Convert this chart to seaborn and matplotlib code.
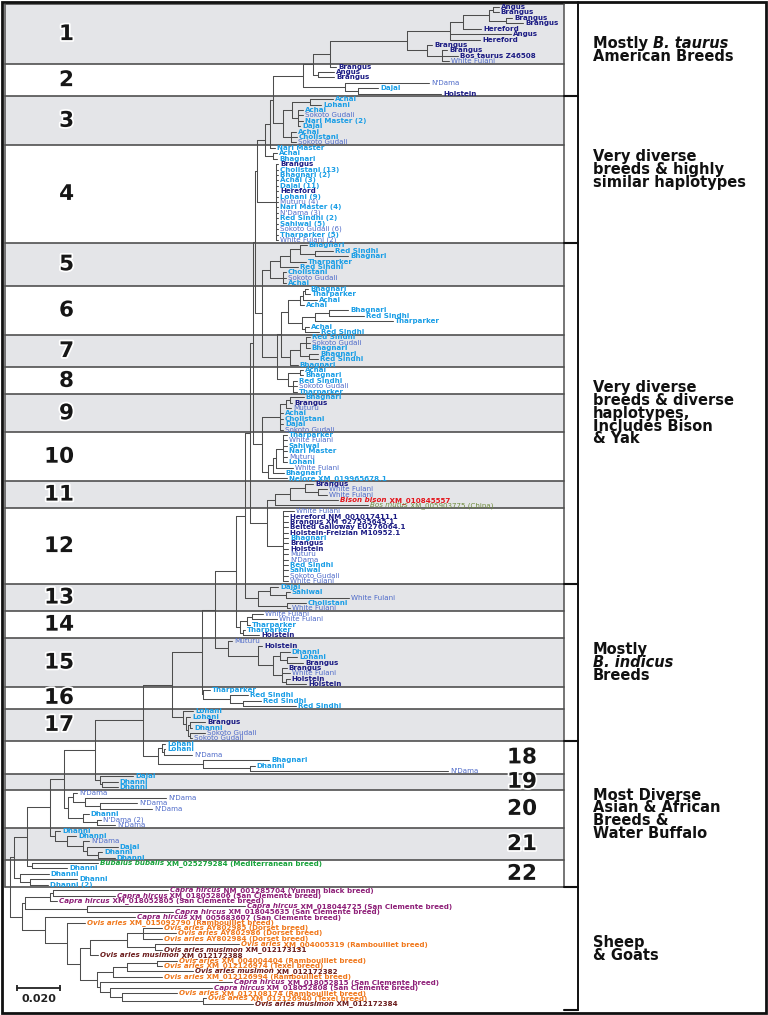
import matplotlib
matplotlib.use("Agg")
import matplotlib.pyplot as plt
import matplotlib.patheffects as pe
from matplotlib.patches import Rectangle
from matplotlib.transforms import blended_transform_factory
import pandas as pd
import seaborn as sns

# -----------------------------------------------------------------------------
# Arvore: no interno = (profundidade, [filhos]), folha = (nome, profundidade)
# profundidades = distancia a partir da raiz, em substituicoes/sitio x 1000
band1 = (184.6, [
    (204.6, [
        (210.7, [
            (222.7, [
                (224.6, [("Angus", 227.4), ("Brangus", 227.4)]),
                (230.7, [("Brangus", 233.5), ("Brangus", 238.6)]),
            ]),
            ("Hereford", 219.1),
        ]),
        ("Angus", 233.0),
        ("Hereford", 218.6),
    ]),
    (193.9, [
        ("Brangus", 196.3),
        (200.9, [("Brangus", 203.3), ("Bos taurus Z46508", 208.4), ("White Fulani", 204.2)]),
    ]),
])

band2 = (136.3, [
    (140.9, [(148.8, [band1, ("Brangus", 151.6)]),
             (143.3, [("Angus", 150.7), ("Brangus", 150.7)])]),
    (155.8, [("N'Dama", 194.9), (161.9, [("Dajal", 171.2), ("Holstein", 200.5)])]),
])

band3 = (127.0, [
    (131.2, [
        (139.5, [("Achai", 150.2), ("Lohani", 144.7)]),
        (133.9, [("Achai", 136.3), ("Sokoto Gudali", 136.3),
                 ("Nari Master (2)", 136.3), ("Dajal", 134.9)]),
    ]),
    (130.7, [("Achai", 133.0), ("Cholistani", 133.5), ("Sokoto Gudali", 133.0)]),
])

band4_top = (118.6, [
    (120.9, [(122.3, [band2, band3]), ("Nari Master", 123.3)]),
    (122.3, [("Achai", 124.2), ("Bhagnari", 124.2)]),
])
band4_rest = (123.7, [
    ("Brangus", 124.7), ("Cholistani (13)", 124.7), ("Bhagnari (2)", 124.7),
    ("Achai (3)", 124.7), ("Dajal (11)", 124.7), ("Hereford", 124.7),
    ("Lohani (9)", 124.7), ("Muturu (4)", 124.7), ("Nari Master (4)", 124.7),
    ("N'Dama (3)", 124.7), ("Red Sindhi (2)", 124.7), ("Sahiwal (5)", 124.7),
    ("Sokoto Gudali (6)", 124.7), ("Tharparker (5)", 124.7), ("White Fulani (2)", 124.7),
])

band5 = (120.9, [
    (125.6, [
        (130.2, [
            (134.9, [("Bhagnari", 138.1), (141.9, [("Red Sindhi", 150.2), ("Bhagnari", 157.2)])]),
            ("Tharparker", 137.7),
        ]),
        ("Red Sindhi", 133.9),
    ]),
    (127.0, [("Cholistani", 128.4), ("Sokoto Gudali", 128.4), ("Achai", 128.4)]),
])

band6 = (129.3, [
    (134.9, [
        (136.3, [(137.2, [("Bhagnari", 138.6), ("Tharparker", 139.5)]), ("Achai", 142.8)]),
        ("Achai", 136.7),
    ]),
    (135.8, [
        (141.9, [(148.4, [("Bhagnari", 157.2), ("Red Sindhi", 164.7)]), ("Tharparker", 178.1)]),
        (137.2, [("Achai", 139.1), ("Red Sindhi", 143.7)]),
    ]),
])

band7 = (130.2, [
    (134.9, [
        (137.7, [("Red Sindhi", 139.5), ("Sokoto Gudali", 139.5), ("Bhagnari", 139.5)]),
        (139.1, [("Bhagnari", 143.3), ("Red Sindhi", 143.3)]),
    ]),
    ("Bhagnari", 133.9),
])

band8 = (129.3, [
    (134.9, [("Achai", 136.3), ("Bhagnari", 136.3)]),
    (131.6, [("Red Sindhi", 133.5), ("Sokoto Gudali", 133.5), ("Tharparker", 133.5)]),
])

band9 = (125.6, [
    (128.4, [(130.2, [("Bhagnari", 136.7), ("Brangus", 131.2)]), ("Muturu", 130.7)]),
    ("Achai", 127.0), ("Cholistani", 127.0), ("Dajal", 127.0), ("Sokoto Gudali", 127.0),
])

band10 = (120.0, [
    (122.3, [
        (123.7, [
            (127.0, [("Tharparker", 128.8), ("White Fulani", 128.8), ("Sahiwal", 128.8),
                     ("Nari Master", 128.8), ("Muturu", 128.8), ("Lohani", 128.8)]),
            ("White Fulani", 131.6),
        ]),
        ("Bhagnari", 127.4),
    ]),
    ("Nelore XM_019965678.1", 128.8),
])

band11 = (123.3, [
    (130.2, [
        (137.2, [("Brangus", 140.9), (143.3, [("White Fulani", 147.4), ("White Fulani", 147.4)])]),
        ("Bison bison XM_010845557", 152.6),
    ]),
    ("Bos mutus XM_005903775 (China)", 166.5),
])

band12 = (127.0, [
    ("White Fulani", 132.1), ("Hereford NM_001017411.1", 129.3),
    ("Brangus XM_027535645.1", 129.3), ("Belted Galloway EU276064.1", 129.3),
    ("Holstein-Freizian M10952.1", 129.3), ("Bhagnari", 129.3), ("Brangus", 129.3),
    ("Holstein", 129.3), ("Muturu", 129.3), ("N'Dama", 129.3), ("Red Sindhi", 129.3),
    ("Sahiwal", 129.3), ("Sokoto Gudali", 129.3), ("White Fulani", 129.3),
])

band13 = (115.3, [
    (120.9, [("Dajal", 124.7), (128.4, [("Sahiwal", 130.2), ("White Fulani", 157.7)])]),
    (128.8, [("Cholistani", 137.7), ("White Fulani", 130.2)]),
])

band14 = (107.0, [
    (110.2, [(112.6, [("White Fulani", 117.7), ("White Fulani", 124.2)]), ("Tharparker", 111.6)]),
    (108.4, [("Tharparker", 109.3), ("Holstein", 115.8)]),
])

band15 = (101.4, [
    ("Muturu", 103.3),
    (115.3, [
        ("Holstein", 117.2),
        (122.3, [
            (125.6, [("Dhanni", 130.2), (128.8, [("Lohani", 133.5), ("Brangus", 136.3)])]),
            (126.5, [("Brangus", 128.8), ("White Fulani", 130.2),
                     (128.4, [("Holstein", 130.2), ("Holstein", 137.7)])]),
        ]),
    ]),
])

band16 = (89.8, [
    ("Tharparker", 93.0),
    (102.3, [("Red Sindhi", 110.7), (108.4, [("Red Sindhi", 116.7), ("Red Sindhi", 133.0)])]),
])

band17 = (80.5, [
    ("Lohani", 85.1),
    (81.9, [("Lohani", 83.7),
            (82.8, [(83.7, [("Brangus", 90.7), ("Dhanni", 84.7)]),
                    (83.7, [("Sokoto Gudali", 90.7), ("Sokoto Gudali", 84.7)])])]),
])

band18 = (68.8, [
    (70.7, [("Lohani", 72.1), (71.6, [("Lohani", 72.1), ("N'Dama", 84.7)])]),
    (89.8, [("Bhagnari", 120.5), (111.6, [("Dhanni", 113.9), ("N'Dama", 203.7)])]),
])

band19 = (41.9, [("Dajal", 57.2), (42.8, [("Dhanni", 50.2), ("Dhanni", 50.2)])])

band20 = (27.0, [
    (29.3, [("N'Dama", 31.2), (34.9, [("N'Dama", 72.6), (41.9, [("N'Dama", 59.1), ("N'Dama", 66.0)])])]),
    (34.0, [("Dhanni", 36.7), (40.5, [("N'Dama (2)", 42.3), ("N'Dama", 48.8)])]),
])

band21 = (20.9, [
    ("Dhanni", 23.3),
    (26.5, [("Dhanni", 30.7),
            (34.0, [("N'Dama", 36.7),
                    (35.8, [("Dajal", 50.2), (40.9, [("Dhanni", 42.8), ("Dhanni", 48.8)])])])]),
])

band22_buffalo = (10.2, [("Bubalus bubalis XM_025279284 (Mediterranean breed)", 40.9), ("Dhanni", 26.5)])
band22_low = (4.7, [("Dhanni", 18.1), (9.3, [("Dhanni", 31.2), ("Dhanni (2)", 17.7)])])

# escada principal: (profundidade do no, clado que sai dali)
backbone_depths = [113.9, 113.0, 111.6, 109.3, 105.1, 95.3, 89.3, 75.3, 61.9, 39.5, 25.1, 18.6, 7.9]
backbone_clades = [
    (117.2, [band5, (124.2, [(126.0, [band6, band7]), band8])]),
    (117.2, [band9, band10]),
    (119.5, [band11, band12]),
    band13, band14, band15, band16, band17, band18, band19, band20, band21, band22_buffalo,
]
bovine_depth = 1.9

ovis = (26.5, [
    ("Ovis aries XM_015092790 (Rambouillet breed)", 34.9),
    (32.6, [
        (37.2, [
            (54.4, [
                (61.9, [("Ovis aries AY802985 (Dorset breed)", 70.7),
                        ("Ovis aries AY802986 (Dorset breed)", 77.2),
                        ("Ovis aries AY802984 (Dorset breed)", 70.7)]),
                (67.4, [("Ovis aries XM_004005319 (Rambouillet breed)", 106.5),
                        ("Ovis aries musimon XM_012173131", 70.7)]),
            ]),
            ("Ovis aries musimon XM_012172388", 41.0),
        ]),
        (40.5, [
            (47.9, [
                (54.4, [(68.4, [("Ovis aries XM_004004404 (Rambouillet breed)", 77.7),
                                ("Ovis aries XM_012126974 (Texel breed)", 70.7)]),
                        ("Ovis aries musimon XM_012172382", 85.1)]),
                ("Ovis aries XM_012126994 (Rambouillet breed)", 70.7),
            ]),
            (41.9, [
                ("Capra hircus XM_018052815 (San Clemente breed)", 103.3),
                (46.5, [
                    ("Capra hircus XM_018052808 (San Clemente breed)", 93.9),
                    (52.1, [("Ovis aries XM_012108174 (Rambouillet breed)", 77.7),
                            (89.8, [("Ovis aries XM_012126940 (Texel breed)", 91.2),
                                    ("Ovis aries musimon XM_012172384", 113.0)])]),
                ]),
            ]),
        ]),
    ]),
])
capra = (7.0, [
    (18.6, [(20.0, [("Capra hircus NM_001285704 (Yunnan black breed)", 73.5),
                    ("Capra hircus XM_018052806 (San Clemente breed)", 48.8)]),
            ("Capra hircus XM_018052805 (San Clemente breed)", 21.9)]),
    (35.8, [("Capra hircus XM_018044725 (San Clemente breed)", 109.3),
            ("Capra hircus XM_018045635 (San Clemente breed)", 75.8)]),
])
caprinae = (5.6, [capra, (16.3, [("Capra hircus XM_005683607 (San Clemente breed)", 58.1), ovis])])

band_sizes = [11, 6, 9, 18, 8, 9, 6, 5, 7, 9, 5, 14, 5, 5, 9, 4, 6, 6, 3, 7, 6, 5]
group_bands = [2, 2, 8, 5, 5]   # bandas por grupo (o ultimo grupo = ovinos e caprinos)
group_text = [
    [[("Mostly ", False), ("B. taurus", True)], [("American Breeds", False)]],
    [[("Very diverse", False)], [("breeds & highly", False)], [("similar haplotypes", False)]],
    [[("Very diverse", False)], [("breeds & diverse", False)], [("haplotypes,", False)],
     [("Includes Bison", False)], [("& Yak", False)]],
    [[("Mostly", False)], [("B. indicus", True)], [("Breeds", False)]],
    [[("Most Diverse", False)], [("Asian & African", False)], [("Breeds &", False)],
     [("Water Buffalo", False)]],
    [[("Sheep", False)], [("& Goats", False)]],
]
scale_len = 0.020

breed_groups = {
    "taurus": ["Angus", "Brangus", "Hereford", "Holstein", "Bos taurus", "Belted Galloway"],
    "indicus": ["Achai", "Lohani", "Dajal", "Cholistani", "Bhagnari", "Tharparker",
                "Red Sindhi", "Sahiwal", "Nari Master", "Dhanni", "Nelore"],
    "african": ["White Fulani", "N'Dama", "Sokoto Gudali", "Muturu"],
}
species_names = ["Bison bison", "Bos mutus", "Bubalus bubalis", "Capra hircus",
                 "Ovis aries musimon", "Ovis aries"]

# estilos
breed_style = {"taurus": ("#1c1c84", "bold"), "indicus": ("#1a9ee6", "bold"),
               "african": ("#4f6bc9", "normal")}
species_style = {"Bison bison": ("#e3141b", "bold"), "Bos mutus": ("#6f8b3d", "normal"),
                 "Bubalus bubalis": ("#17a23a", "bold"), "Capra hircus": ("#8e1f78", "bold"),
                 "Ovis aries musimon": ("#6b1d1d", "bold"), "Ovis aries": ("#f0781c", "bold")}

# -----------------------------------------------------------------------------
# Monta a arvore completa
core = (114.9, [band4_top, band4_rest])
for d, clade in zip(backbone_depths, backbone_clades):
    core = (d, [core, clade])
bovine = (bovine_depth, [core, band22_low])
tree = (0.0, [bovine, caprinae])

leaves = []
segs = []


def depth_of(node):
    return node[1] if isinstance(node[0], str) else node[0]


def layout(node):
    if isinstance(node[0], str):
        leaves.append((node[0], node[1] / 1000, len(leaves)))
        return leaves[-1][2]
    d = node[0] / 1000
    ys = [layout(k) for k in node[1]]
    for k, yk in zip(node[1], ys):
        segs.append((d, yk, depth_of(k) / 1000, yk))
    segs.append((d, ys[0], d, ys[-1]))
    return (ys[0] + ys[-1]) / 2


layout(tree)
rows = []
for i, (x0, y0, x1, y1) in enumerate(segs):
    rows.append({"seg": i, "x": x0, "y": y0})
    rows.append({"seg": i, "x": x1, "y": y1})
seg_df = pd.DataFrame(rows)

# -----------------------------------------------------------------------------
sns.set_theme(style="white")
plt.rcParams["font.family"] = ["DejaVu Sans"]

W, H = 768, 1015
fig = plt.figure(figsize=(W / 100, H / 100), dpi=100)
ax = fig.add_axes([0, 0, 1, 1])
ax.set_xlim(-10 / 2150, (W - 10) / 2150)
ax.set_ylim((H - 7) / 5.418, -7 / 5.418)
ax.axis("off")
trans = blended_transform_factory(ax.transAxes, ax.transData)

x_left, x_right, x_brk = 5 / W, 564 / W, 578 / W

# faixas
edges = [-0.5]
for n in band_sizes:
    edges.append(edges[-1] + n)
for b in range(len(band_sizes)):
    if b % 2 == 0:
        ax.axhspan(edges[b], edges[b + 1], xmin=x_left, xmax=x_right,
                   color="#e4e5e8", lw=0, zorder=0)
for e in edges:
    ax.plot([x_left, x_right], [e, e], transform=trans, color="#505050", lw=1.2, zorder=1)
ax.plot([x_left, x_left], [edges[0], edges[-1]], transform=trans, color="#505050", lw=1.1)
ax.plot([x_right, x_right], [edges[0], edges[-1]], transform=trans, color="#505050", lw=1.1)

for b in range(len(band_sizes)):
    yc = (edges[b] + edges[b + 1]) / 2
    xt = 74 / W if b < 17 else 537 / W
    ax.text(xt, yc, str(b + 1), transform=trans, ha="right", va="center",
            fontsize=15.5, fontweight="bold", color="#161616", zorder=6,
            path_effects=[pe.withStroke(linewidth=2.5, foreground="white")])

# arvore
sns.lineplot(data=seg_df, x="x", y="y", units="seg", estimator=None, sort=False,
             color="#4d4d4d", linewidth=0.75, legend=False, ax=ax, zorder=3)
ax.set_xlabel("")
ax.set_ylabel("")


def classify(name):
    for sp in species_names:
        if name.startswith(sp):
            color, weight = species_style[sp]
            return [(sp, True, color, weight), (name[len(sp):], False, color, weight)]
    for grp, names in breed_groups.items():
        for b in names:
            if name.startswith(b):
                color, weight = breed_style[grp]
                return [(name, False, color, weight)]
    return [(name, False, "k", "normal")]


for name, d, y in leaves:
    prev = None
    for text, italic, color, weight in classify(name):
        kw = dict(fontsize=5.1, color=color, fontweight=weight,
                  fontstyle="italic" if italic else "normal",
                  va="center", ha="left", zorder=5)
        if prev is None:
            prev = ax.annotate(text, (d, y), xytext=(1.4, 0), textcoords="offset points", **kw)
        else:
            prev = ax.annotate(text, (1, 0.5), xycoords=prev, **kw)

# colchete da direita e textos dos grupos
bottom = len(leaves) + 0.1
g_edges = [edges[0]]
k = 0
for n in group_bands:
    k += n
    g_edges.append(edges[k])
g_edges.append(bottom)
ax.plot([x_brk, x_brk], [(2 - 7) / 5.418, bottom], transform=trans, color="#111111", lw=1.4)
for e in g_edges[1:]:
    ax.plot([x_right, x_brk], [e, e], transform=trans, color="#111111", lw=1.5)

for g, lines in enumerate(group_text):
    yc = (g_edges[g] + g_edges[g + 1]) / 2
    n = len(lines)
    for i, line in enumerate(lines):
        prev = None
        for text, italic in line:
            kw = dict(fontsize=10.5, fontweight="bold", color="#111111",
                      fontstyle="italic" if italic else "normal", va="center", ha="left")
            if prev is None:
                prev = ax.annotate(text, (593 / W, yc), xycoords=trans,
                                   xytext=(0, -(i - (n - 1) / 2) * 9.2),
                                   textcoords="offset points", **kw)
            else:
                prev = ax.annotate(text, (1, 0.5), xycoords=prev, **kw)

# barra de escala
yb = (988 - 7) / 5.418
ax.plot([0.0033, 0.0033 + scale_len], [yb, yb], color="#222222", lw=1.3,
        marker="|", ms=4, mew=1.3)
ax.text(0.0033 + scale_len / 2, yb + 2.1, f"{scale_len:.3f}", ha="center", va="center",
        fontsize=8, fontweight="bold", color="#222222")

# moldura
ax.add_patch(Rectangle((2 / W, 2 / H), (W - 4) / W, (H - 4) / H, transform=ax.transAxes,
                       fill=False, ec="#111111", lw=2, clip_on=False))

fig.savefig("out.png", dpi=100)
